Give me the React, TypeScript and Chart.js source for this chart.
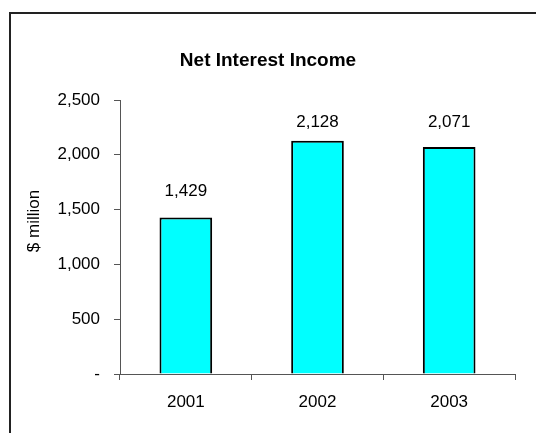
import React, { useEffect, useRef } from "react";
import { Chart, registerables } from "chart.js";

Chart.register(...registerables);

const categories = ["2001", "2002", "2003"];
const values = [1429, 2128, 2071];
const valueLabels = ["1,429", "2,128", "2,071"];
const chartTitle = "Net Interest Income";
const yTitle = "$ million";

const FONT = "'Liberation Sans', Arial, Helvetica, sans-serif";

const frame = {
  id: "frame",
  beforeDraw(chart: any) {
    const ctx = chart.ctx;
    ctx.save();
    ctx.fillStyle = "#ffffff";
    ctx.fillRect(0, 0, chart.width, chart.height);
    ctx.strokeStyle = "#222222";
    ctx.lineWidth = 2;
    ctx.strokeRect(10, 13, chart.width + 40, chart.height + 40);
    ctx.fillStyle = "#000000";
    ctx.font = `bold 19px ${FONT}`;
    ctx.textAlign = "center";
    ctx.textBaseline = "alphabetic";
    ctx.fillText(chartTitle, chart.width / 2, 66);
    ctx.restore();
  },
};

const extras = {
  id: "extras",
  afterDatasetsDraw(chart: any) {
    const ctx = chart.ctx;
    const meta = chart.getDatasetMeta(0);
    const area = chart.chartArea;
    ctx.save();
    ctx.fillStyle = "#000000";
    ctx.font = `17px ${FONT}`;
    ctx.textAlign = "center";
    ctx.textBaseline = "alphabetic";
    meta.data.forEach((bar: any, i: number) => {
      const y = Math.max(bar.y - 21, area.top + 27);
      ctx.fillText(valueLabels[i], bar.x, y);
    });
    ctx.translate(area.left - 86, area.top + 121);
    ctx.rotate(-Math.PI / 2);
    ctx.textBaseline = "middle";
    ctx.fillText(yTitle, 0, 0);
    ctx.restore();
  },
};

export default function App() {
  const ref = useRef<HTMLCanvasElement | null>(null);
  useEffect(() => {
    if (!ref.current) return;
    const chart = new Chart(ref.current, {
      type: "bar",
      data: {
        labels: categories,
        datasets: [
          {
            data: values,
            backgroundColor: "#00FFFF",
            borderColor: "#000000",
            borderWidth: 2,
            barPercentage: 0.4,
            categoryPercentage: 1,
          },
        ],
      },
      options: {
        responsive: false,
        animation: false,
        devicePixelRatio: 1,
        layout: { padding: { left: 0, right: 21, top: 100, bottom: 0 } },
        plugins: {
          legend: { display: false },
          tooltip: { enabled: false },
          title: { display: false },
        },
        scales: {
          x: {
            afterFit: (s: any) => {
              s.height = 59;
            },
            grid: {
              offset: true,
              drawOnChartArea: false,
              drawTicks: true,
              tickLength: 6,
              color: "#555555",
            },
            border: { color: "#555555", width: 1 },
            ticks: {
              color: "#000000",
              font: { family: FONT, size: 17 },
              padding: 12,
            },
          },
          y: {
            min: 0,
            max: 2500,
            afterFit: (s: any) => {
              s.width = 120;
            },
            grid: {
              drawOnChartArea: false,
              drawTicks: true,
              tickLength: 6,
              color: "#555555",
            },
            border: { color: "#555555", width: 1 },
            ticks: {
              stepSize: 500,
              color: "#000000",
              font: { family: FONT, size: 17 },
              padding: 14,
              callback: (v: any) =>
                Number(v) === 0 ? "-" : Number(v).toLocaleString("en-US"),
            },
          },
        },
      },
      plugins: [frame, extras],
    });
    return () => chart.destroy();
  }, []);
  return (
    <canvas
      ref={ref}
      width={536}
      height={433}
      style={{ position: "fixed", left: 0, top: 0, width: 536, height: 433 }}
    />
  );
}
